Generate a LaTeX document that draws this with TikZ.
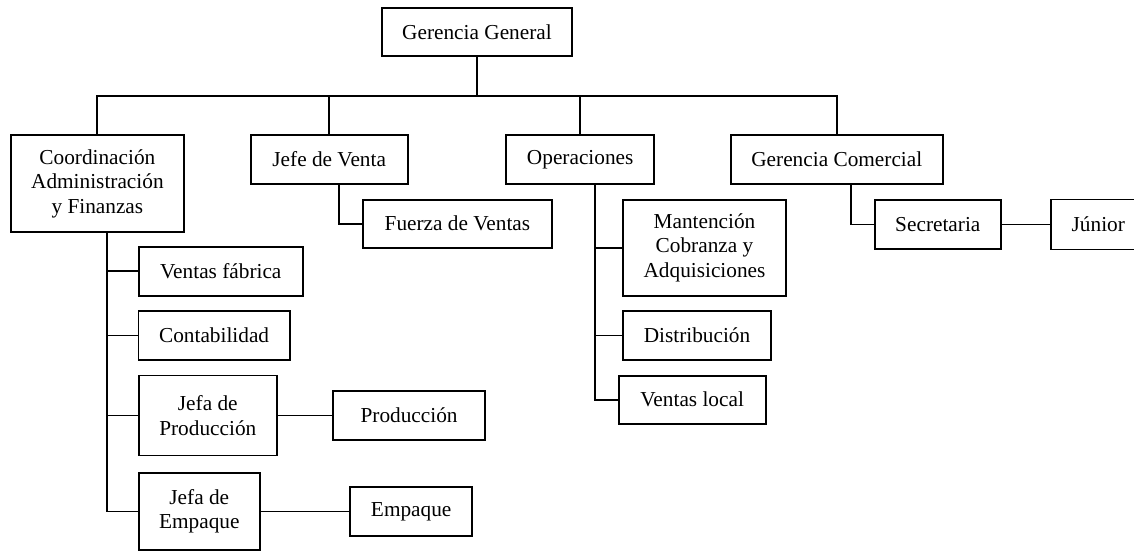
\documentclass[tikz,border=0pt]{standalone}
\usepackage{fontspec}
\setmainfont{Liberation Serif}
\begin{document}
\begin{tikzpicture}[x=1pt,y=-1pt,
  unit/.style={draw=black, line width=1.9pt, inner sep=0pt, align=center,
    font=\fontsize{21.3}{24.5}\selectfont},
  link/.style={draw=black, line width=1.9pt}]
\useasboundingbox (0,0) rectangle (1134,551);
\clip (0,0) rectangle (1134,551);

% top level
\node[unit, minimum width=190pt, minimum height=48pt] (gg) at (477,32) {Gerencia General};

% second level
\node[unit, minimum width=173.3pt, minimum height=96.7pt] (coord) at (97.4,183.4)
  {Coordinación\\Administración\\y Finanzas};
\node[unit, minimum width=157pt, minimum height=48.7pt] (jv) at (329.2,159.4) {Jefe de Venta};
\node[unit, minimum width=148.4pt, minimum height=48.7pt] (op) at (580.2,159.4) {Operaciones};
\node[unit, minimum width=212.3pt, minimum height=48.7pt] (gc) at (836.8,159.4) {Gerencia Comercial};

% under Jefe de Venta
\node[unit, minimum width=189.2pt, minimum height=48pt] (fv) at (457.4,223.7) {Fuerza de Ventas};

% under Gerencia Comercial
\node[unit, minimum width=126pt, minimum height=49.6pt] (sec) at (937.8,224.5) {Secretaria};
\node[unit, minimum width=95.5pt, minimum height=50pt] (jun) at (1098.3,224.5) {Júnior};

% under Operaciones
\node[unit, minimum width=163pt, minimum height=96pt] (mant) at (704.5,247.7)
  {Mantención\\Cobranza y\\Adquisiciones};
\node[unit, minimum width=148pt, minimum height=48.4pt] (dist) at (697,335.5) {Distribución};
\node[unit, minimum width=147pt, minimum height=48pt] (vl) at (692.2,399.7) {Ventas local};

% under Coordinación
\node[unit, minimum width=164.5pt, minimum height=48.7pt] (vf) at (220.8,271.3) {Ventas fábrica};
\node[unit, minimum width=151.2pt, minimum height=48.4pt] (cont) at (214.1,335.5) {Contabilidad};
\node[unit, minimum width=138.5pt, minimum height=80pt] (jp) at (207.8,415.5) {Jefa de\\Producción};
\node[unit, minimum width=151.6pt, minimum height=48.4pt] (prod) at (409.1,415.5) {Producción};
\node[unit, minimum width=121.5pt, minimum height=77pt] (je) at (199.3,511.5) {Jefa de\\Empaque};
\node[unit, minimum width=122.3pt, minimum height=48.4pt] (emp) at (411.2,511.5) {Empaque};

% main bus
\coordinate (busL) at (97.4,96);
\coordinate (busR) at (836.8,96);
\draw[link] (coord.north) -- (busL) -- (busR) -- (gc.north);
\draw[link] (gg.south) -- (gg.south |- busL);
\draw[link] (jv.north) -- (jv.north |- busL);
\draw[link] (op.north) -- (op.north |- busL);

% Jefe de Venta branch
\draw[link] ([xshift=9.8pt]jv.south) |- (fv.west);

% Gerencia Comercial branch
\draw[link] ([xshift=14.6pt]gc.south) |- (sec.west);
\draw[link] (sec.east) -- (jun.west);

% Operaciones branch
\coordinate (otrunk) at ([xshift=14.8pt]op.south);
\draw[link] (otrunk) |- (vl.west);
\draw[link] (mant.west) -- (mant.west -| otrunk);
\draw[link] (dist.west) -- (dist.west -| otrunk);

% Coordinación branch
\coordinate (ctrunk) at ([xshift=9.9pt]coord.south);
\draw[link] (ctrunk) |- (je.west);
\draw[link] (vf.west) -- (vf.west -| ctrunk);
\draw[link] (cont.west) -- (cont.west -| ctrunk);
\draw[link] (jp.west) -- (jp.west -| ctrunk);
\draw[link] (jp.east) -- (prod.west);
\draw[link] (je.east) -- (emp.west);
\end{tikzpicture}
\end{document}
